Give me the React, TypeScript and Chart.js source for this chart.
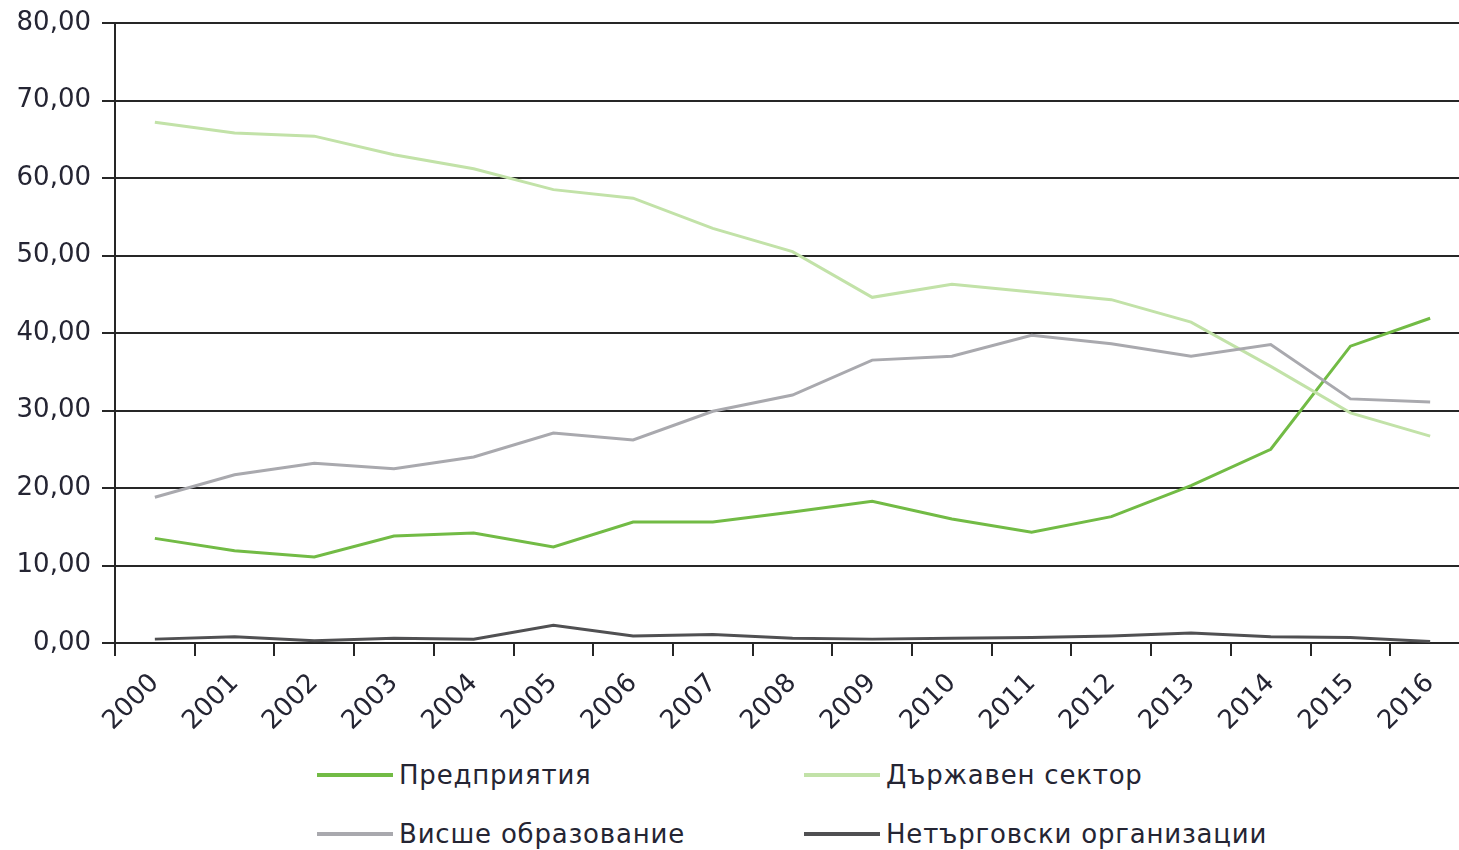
import React, { useEffect, useRef } from "react";
import { Chart, registerables } from "chart.js";

Chart.register(...registerables);

const years = ["2000", "2001", "2002", "2003", "2004", "2005", "2006", "2007", "2008", "2009", "2010", "2011", "2012", "2013", "2014", "2015", "2016"];
const enterprises = [13.5, 11.9, 11.1, 13.8, 14.2, 12.4, 15.6, 15.6, 16.9, 18.3, 16.0, 14.3, 16.3, 20.3, 25.0, 38.3, 41.9];
const government = [67.2, 65.8, 65.4, 63.0, 61.2, 58.5, 57.4, 53.5, 50.5, 44.6, 46.3, 45.3, 44.3, 41.4, 35.7, 29.7, 26.7];
const higherEducation = [18.8, 21.7, 23.2, 22.5, 24.0, 27.1, 26.2, 29.9, 32.0, 36.5, 37.0, 39.7, 38.6, 37.0, 38.5, 31.5, 31.1];
const nonProfit = [0.5, 0.8, 0.3, 0.6, 0.5, 2.3, 0.9, 1.1, 0.6, 0.5, 0.6, 0.7, 0.9, 1.3, 0.8, 0.7, 0.2];
const seriesNames = ["Предприятия", "Държавен сектор", "Висше образование", "Нетърговски организации"];
const seriesColors = ["#72bb45", "#c2e2a8", "#a9a9ae", "#505052"];

const FONT = "'DejaVu Sans', sans-serif";
const TEXT = "#252533";
const AXIS = "#262626";

export default function App() {
  const ref = useRef<HTMLCanvasElement | null>(null);

  useEffect(() => {
    if (!ref.current) return;
    const chart = new Chart(ref.current, {
      type: "line",
      data: {
        labels: years,
        datasets: [
          { label: seriesNames[3], data: nonProfit, borderColor: seriesColors[3] },
          { label: seriesNames[2], data: higherEducation, borderColor: seriesColors[2] },
          { label: seriesNames[1], data: government, borderColor: seriesColors[1] },
          { label: seriesNames[0], data: enterprises, borderColor: seriesColors[0] },
        ].map((d) => ({ ...d, borderWidth: 3, pointRadius: 0, tension: 0, fill: false })),
      },
      options: {
        animation: false,
        responsive: false,
        maintainAspectRatio: false,
        layout: { padding: { top: 23, right: 0, left: 0, bottom: 0 } },
        plugins: { legend: { display: false }, tooltip: { enabled: false } },
        scales: {
          x: {
            type: "category",
            offset: true,
            grid: { drawOnChartArea: false, drawTicks: true, tickLength: 13, color: AXIS, lineWidth: 2, offset: true },
            border: { display: true, color: AXIS, width: 2 },
            ticks: {
              autoSkip: false,
              maxRotation: 45,
              minRotation: 45,
              padding: 12,
              color: TEXT,
              font: { family: FONT, size: 26 },
            },
            afterFit: (s: any) => {
              s.height = 102;
              s.paddingLeft = 0;
              s.paddingRight = 0;
            },
          },
          y: {
            min: 0,
            max: 80,
            grid: { color: AXIS, lineWidth: 2, tickLength: 13 },
            border: { display: true, color: AXIS, width: 2 },
            ticks: {
              stepSize: 10,
              padding: 11,
              color: TEXT,
              font: { family: FONT, size: 26 },
              callback: (v: any) => Number(v).toFixed(2).replace(".", ","),
            },
            afterFit: (s: any) => {
              s.width = 115;
              s.paddingTop = 0;
              s.paddingBottom = 0;
            },
          },
        },
      },
    });
    return () => chart.destroy();
  }, []);

  const legendPos = [
    { left: 317, top: 775 },
    { left: 804, top: 775 },
    { left: 317, top: 834 },
    { left: 804, top: 834 },
  ];

  return (
    <div style={{ position: "absolute", left: 0, top: 0, width: 1459, height: 850, overflow: "hidden", background: "#fff" }}>
      <style>{`html,body{margin:0;overflow:hidden;background:#fff}`}</style>
      <canvas ref={ref} width={1470} height={745} style={{ position: "absolute", left: 0, top: 0, width: 1470, height: 745 }} />
      {seriesNames.map((name, i) => (
        <div
          key={name}
          style={{
            position: "absolute",
            left: legendPos[i].left,
            top: legendPos[i].top - 20,
            height: 40,
            display: "flex",
            alignItems: "center",
            fontFamily: FONT,
            fontSize: 26,
            letterSpacing: "0.8px",
            color: TEXT,
            whiteSpace: "nowrap",
          }}
        >
          <span style={{ display: "inline-block", width: 76, height: 4, background: seriesColors[i], marginRight: 6 }} />
          <span>{name}</span>
        </div>
      ))}
    </div>
  );
}
